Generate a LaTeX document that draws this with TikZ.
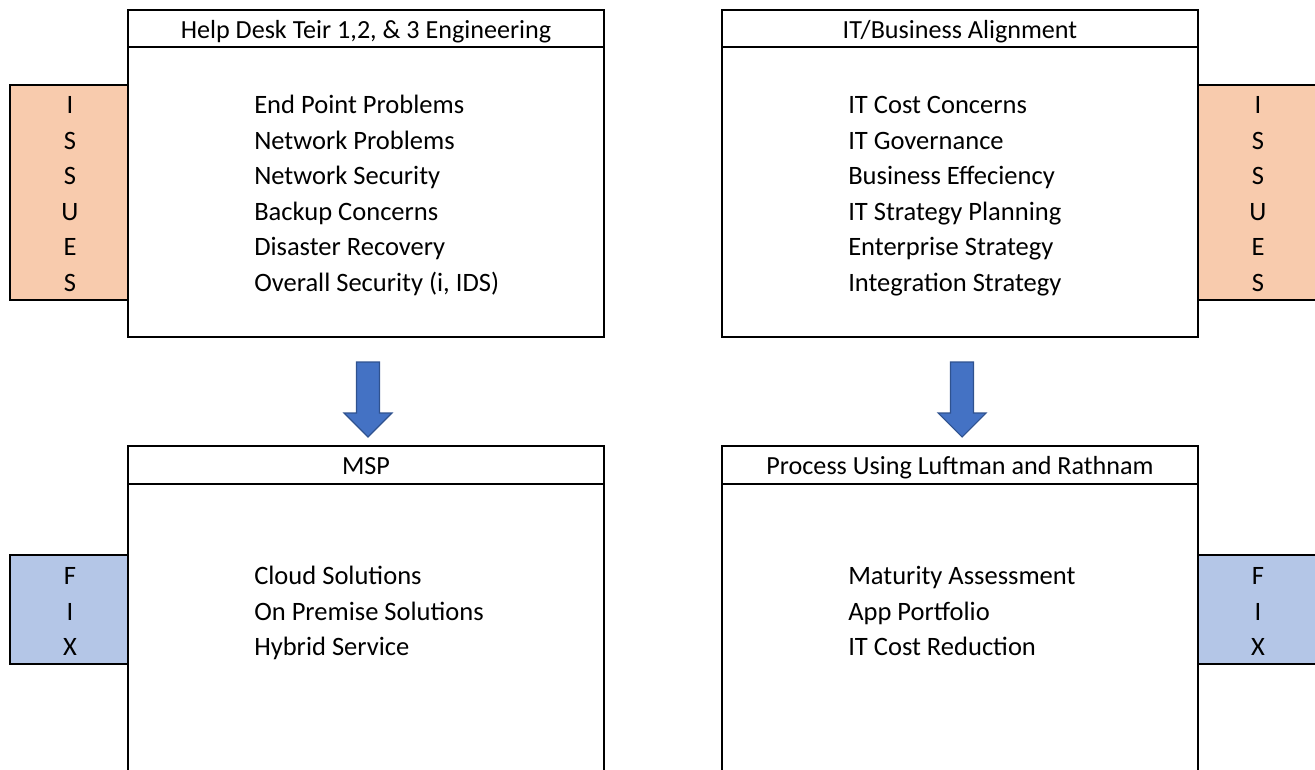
\documentclass[tikz,border=0pt]{standalone}
\usepackage{fontspec}
\setmainfont{Carlito}
\usetikzlibrary{calc}
\definecolor{issueorange}{HTML}{F8CBAD}
\definecolor{fixblue}{HTML}{B4C6E7}
\definecolor{arrowblue}{HTML}{4472C4}
\definecolor{arrowedge}{HTML}{2F528F}
\tikzset{
	panel/.style={draw=black, line width=1.5pt, fill=white},
	item/.style={anchor=base west, inner sep=0pt, font=\fontsize{19.9}{23}\selectfont},
	letter/.style={anchor=base, inner sep=0pt, font=\fontsize{19.9}{23}\selectfont},
	heading/.style={anchor=base, inner sep=0pt, font=\fontsize{19.6}{23}\selectfont},
	blockarrow/.style={draw=arrowedge, fill=arrowblue, line width=0.8pt, line join=miter}
}
\begin{document}
\begin{tikzpicture}[x=0.75pt, y=-0.75pt]
	\useasboundingbox (0,0) rectangle (1315,770);
	% side tabs
	\draw[panel, fill=issueorange] (10,85) rectangle (128,300);
	\draw[panel, fill=issueorange] (1198,85) rectangle (1318,300);
	\draw[panel, fill=fixblue] (10,555) rectangle (128,664);
	\draw[panel, fill=fixblue] (1198,555) rectangle (1318,664);
	% boxes
	\foreach \x in {128,722} {
		\draw[panel] (\x,10) rectangle ++(476,327);
		\draw[panel] (\x,10) -- ++(476,0) -- ++(0,37) -- ++(-476,0) -- cycle;
		\draw[panel] (\x,446) rectangle ++(476,330);
		\draw[panel] (\x,446) -- ++(476,0) -- ++(0,38) -- ++(-476,0) -- cycle;
	}
	% headings
	\node[heading] (hdtitle) at (366,39) {Help Desk Teir 1,2, \& 3 Engineering};
	\node[heading] (ittitle) at (960,39) {IT/Business Alignment};
	\node[heading] (msptitle) at (366,474) {MSP};
	\node[heading] (lrtitle) at (960,474) {Process Using Luftman and Rathnam};
	% letters
	\foreach \c [count=\i] in {I,S,S,U,E,S} {
		\node[letter] (issl\i) at (70,{105+35.6*(\i-1)+8.5}) {\c};
		\node[letter] (issr\i) at (1258,{105+35.6*(\i-1)+8.5}) {\c};
	}
	\foreach \c [count=\i] in {F,I,X} {
		\node[letter] (fixl\i) at (70,{576+35.5*(\i-1)+8.5}) {\c};
		\node[letter] (fixr\i) at (1258,{576+35.5*(\i-1)+8.5}) {\c};
	}
	% items
	\foreach \t [count=\i] in {End Point Problems, Network Problems, Network Security, Backup Concerns, Disaster Recovery, {Overall Security (i, IDS)}}
		\node[item] (hd\i) at (254,{105+35.6*(\i-1)+8.5}) {\t};
	\foreach \t [count=\i] in {IT Cost Concerns, IT Governance, Business Effeciency, IT Strategy Planning, Enterprise Strategy, Integration Strategy}
		\node[item] (it\i) at (848,{105+35.6*(\i-1)+8.5}) {\t};
	\foreach \t [count=\i] in {Cloud Solutions, On Premise Solutions, Hybrid Service}
		\node[item] (msp\i) at (254,{576+35.5*(\i-1)+8.5}) {\t};
	\foreach \t [count=\i] in {Maturity Assessment, App Portfolio, IT Cost Reduction}
		\node[item] (lr\i) at (848,{576+35.5*(\i-1)+8.5}) {\t};
	% arrows
	\foreach \x/\n in {368/hdarrow, 962/itarrow} {
		\coordinate (\n) at (\x,362);
		\draw[blockarrow] (\n) ++(-11.5,0) -- ++(23,0) -- ++(0,51) -- ++(12.5,0)
			-- ++(-24,24) -- ++(-24,-24) -- ++(12.5,0) -- cycle;
	}
\end{tikzpicture}
\end{document}
